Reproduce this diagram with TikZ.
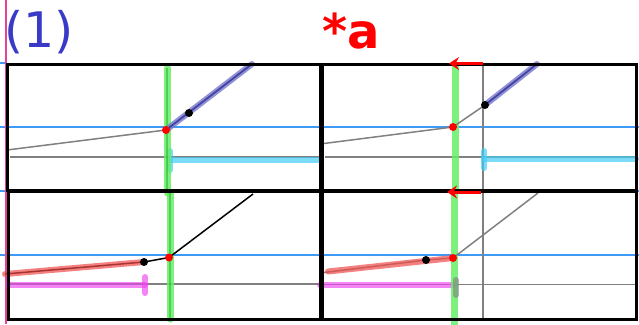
\documentclass[tikz,border=0pt]{standalone}
\usepackage{fontspec}
\setmainfont{DejaVu Sans}
\usetikzlibrary{arrows.meta}
\definecolor{titleblue}{HTML}{3A3AC8}
\definecolor{guideblue}{HTML}{3D9BF5}
\definecolor{pinkl}{HTML}{E8409A}
\definecolor{greenl}{HTML}{66EE66}
\definecolor{periw}{HTML}{7777D0}
\definecolor{periwdark}{HTML}{4444A0}
\definecolor{cyanl}{HTML}{44CCF4}
\definecolor{redl}{HTML}{F04A4A}
\definecolor{magl}{HTML}{EE44EE}
\tikzset{
  frame/.style={draw=black, line width=3},
  guide/.style={draw=guideblue, line width=1.1},
  grayline/.style={draw=gray, line width=1.5},
  blackline/.style={draw=black, line width=1.5},
  greenbar/.style={draw=greenl, line width=7, line cap=round, opacity=0.85},
  greencore/.style={draw=green!55!black, line width=1.2, opacity=0.35},
  periwbar/.style={draw=periw, line width=6, line cap=round, opacity=0.8},
  periwcore/.style={draw=periwdark, line width=1.8},
  cyanbar/.style={draw=cyanl, line width=6, line cap=round, opacity=0.7},
  redbar/.style={draw=redl, line width=6, line cap=round, opacity=0.7},
  magbar/.style={draw=magl, line width=6, line cap=round, opacity=0.65},
  dotred/.style={fill=red, circle, inner sep=0, minimum size=8},
  dotblack/.style={fill=black, circle, inner sep=0, minimum size=8},
  redarrow/.style={draw=red, line width=3, -{Stealth[length=10, width=13, inset=3.5]}},
}
\begin{document}
\begin{tikzpicture}[x=1pt, y=-1pt]
\useasboundingbox (0,0) rectangle (639,324);
% guide lines
\draw[guide] (0,63) -- (7,63);
\draw[guide] (0,127) -- (639,127);
\draw[guide] (0,191) -- (639,191);
\draw[guide] (0,255) -- (639,255);
\draw[draw=pinkl, line width=1.2] (6,0) -- (6,324);

% titles
\node[anchor=base west, inner sep=0, text=titleblue, font=\fontsize{49}{54}\selectfont] (t1) at (4,47) {(1)};
\node[anchor=base west, inner sep=0, text=red, font=\fontsize{48}{54}\selectfont\bfseries] (t2) at (322,48) {*a};

% ---------- top-left ----------
\coordinate (tlA) at (7,150);
\coordinate (tlR) at (166,130);
\coordinate (tlB) at (189,113);
\coordinate (tlE) at (252,64);
\draw[grayline] (10,157) -- (320,157);
\draw[grayline] (tlA) -- (tlR);
\draw[cyanbar] (170,159.5) -- (320,159.5);
\draw[cyanbar] (170,151) -- (170,170);
\draw[greenbar] (167,68) -- (167,193);
\draw[greencore] (167,68) -- (167,193);
\draw[periwbar] (tlR) -- (tlE);
\draw[periwcore] (tlR) -- (tlE);
\node[dotblack] (tlb) at (tlB) {};
\node[dotred] (tlr) at (tlR) {};

% ---------- top-right ----------
\coordinate (trA) at (320,144);
\coordinate (trR) at (453,127);
\coordinate (trB) at (485,105);
\coordinate (trE) at (537,64);
\draw[grayline] (483,63) -- (483,319);
\draw[grayline] (325,157) -- (636,157);
\draw[cyanbar] (484,158.5) -- (636,158.5);
\draw[cyanbar] (484,151) -- (484,168);
\draw[greenbar] (455,65) -- (455,190);
\draw[grayline] (trA) -- (trR) -- (trB);
\draw[periwbar] (trB) -- (trE);
\draw[periwcore] (trB) -- (trE);
\node[dotred] (trr) at (trR) {};
\node[dotblack] (trb) at (trB) {};

% ---------- bottom-left ----------
\coordinate (blA) at (5,274);
\coordinate (blB) at (144,262);
\coordinate (blR) at (169,257.5);
\coordinate (blE) at (253,194);
\draw[grayline] (8,284) -- (320,284);
\draw[magbar] (9,285) -- (145,285);
\draw[magbar] (145,277) -- (145,293);
\draw[greenbar] (170,193) -- (170,319);
\draw[greencore] (170,193) -- (170,319);
\draw[blackline] (blA) -- (blB) -- (blR) -- (blE);
\draw[redbar] (blA) -- (blB);
\node[dotblack] (blb) at (blB) {};
\node[dotred] (blr) at (blR) {};

% ---------- bottom-right ----------
\coordinate (brA) at (320,273);
\coordinate (brB) at (426,260);
\coordinate (brR) at (453,258);
\coordinate (brE) at (538,193);
\draw[grayline] (320,284.5) -- (636,284.5);
\draw[magbar] (320,285) -- (455,285);
\draw[greenbar] (454,192) -- (454,328);
\draw[draw=gray, line width=6, line cap=round, opacity=0.6] (456,280) -- (456,295);
\draw[grayline] (brA) -- (brB) -- (brR) -- (brE);
\draw[redbar] (328,271.5) -- (brR);
\node[dotblack] (brb) at (brB) {};
\node[dotred] (brr) at (brR) {};

% frames
\draw[frame] (7.5,64) rectangle (320.5,190.5);
\draw[frame] (322,64) rectangle (636,190.5);
\draw[frame] (8.5,191.5) rectangle (320.5,319);
\draw[frame] (322,191.5) rectangle (636,319);

% red arrows
\coordinate (ra1s) at (483,63.5);
\coordinate (ra1e) at (449,63.5);
\coordinate (ra2s) at (481,192);
\coordinate (ra2e) at (447,192);
\draw[redarrow] (ra1s) -- (ra1e);
\draw[redarrow] (ra2s) -- (ra2e);
\end{tikzpicture}
\end{document}
